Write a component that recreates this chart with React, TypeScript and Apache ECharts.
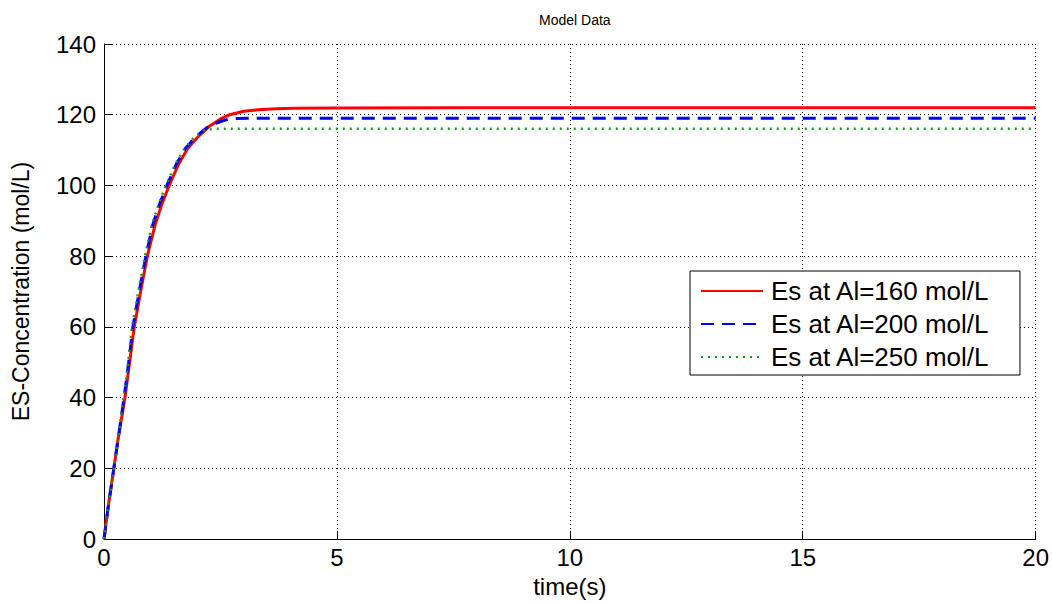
import React, { useEffect, useRef } from "react";
import * as echarts from "echarts";

const chartTitle = "Model Data";
const xName = "time(s)";
const yName = "ES-Concentration (mol/L)";
const seriesNames = ["Es at Al=160 mol/L", "Es at Al=200 mol/L", "Es at Al=250 mol/L"];

const redT = [0, 0.05, 0.1, 0.2, 0.3, 0.45, 0.55, 0.65, 0.8, 0.93, 1.1, 1.25, 1.4, 1.6, 1.8, 2.0, 2.24, 2.5, 2.7, 3.0, 3.3, 3.7, 4.1, 5, 7.5, 10, 20];
const redV = [0, 5, 10, 19, 28, 40, 50, 60, 71, 80, 89, 95, 100, 106, 110.5, 113.5, 116.5, 118.8, 120, 121, 121.4, 121.7, 121.8, 121.9, 122, 122, 122];

const blueT = [0, 0.05, 0.1, 0.2, 0.3, 0.43, 0.53, 0.62, 0.77, 0.9, 1.05, 1.2, 1.35, 1.55, 1.75, 1.95, 2.2, 2.4, 2.6, 2.8, 3.2, 4, 20];
const blueV = [0, 5, 10, 19, 28, 40, 50, 60, 71, 80, 89, 95, 100, 106, 110.5, 113.5, 116.3, 117.6, 118.5, 118.9, 119, 119, 119];

const greenT = [0, 0.05, 0.1, 0.2, 0.3, 0.42, 0.52, 0.6, 0.75, 0.88, 1.03, 1.18, 1.33, 1.53, 1.73, 1.93, 2.15, 2.35, 2.6, 20];
const greenV = [0, 5, 10, 19, 28, 40, 50, 60, 71, 80, 89, 95, 100, 106, 110.5, 113.5, 115.6, 116, 116, 116];

const pairs = (t: number[], v: number[]) => t.map((x, i) => [x, v[i]]);

const FONT = "'Liberation Sans', Arial, sans-serif";

export default function App() {
  const ref = useRef<HTMLDivElement>(null);
  useEffect(() => {
    if (!ref.current) return;
    const chart = echarts.init(ref.current, null, { renderer: "svg" });
    chart.setOption({
      animation: false,
      backgroundColor: "#ffffff",
      title: {
        text: chartTitle,
        left: 534,
        top: 8,
        textStyle: { fontFamily: FONT, fontSize: 14, fontWeight: "normal", color: "#000" },
      },
      grid: { left: 104, right: 16, top: 44, bottom: 63, containLabel: false },
      legend: {
        orient: "vertical",
        left: 690,
        top: 271,
        padding: [7, 30, 5, 10],
        itemGap: 7,
        itemWidth: 62,
        itemHeight: 14,
        borderColor: "#000",
        borderWidth: 1,
        backgroundColor: "#fff",
        align: "left",
        itemStyle: { opacity: 0 },
        textStyle: { fontFamily: FONT, fontSize: 26, color: "#000", padding: [0, 0, 0, 3] },
        data: seriesNames,
      },
      xAxis: {
        type: "value",
        min: 0,
        max: 20,
        interval: 5,
        name: xName,
        nameLocation: "middle",
        nameGap: 28,
        nameTextStyle: { fontFamily: FONT, fontSize: 24, color: "#000" },
        axisLine: { lineStyle: { color: "#000", width: 1 } },
        axisTick: { inside: true, length: 8, lineStyle: { color: "#000" } },
        axisLabel: { fontFamily: FONT, fontSize: 24, color: "#000", margin: 6 },
        splitLine: { show: true, lineStyle: { color: "#000", type: [1, 3], width: 1 } },
      },
      yAxis: {
        type: "value",
        min: 0,
        max: 140,
        interval: 20,
        name: yName,
        nameLocation: "middle",
        nameGap: 72,
        nameTextStyle: { fontFamily: FONT, fontSize: 23, color: "#000" },
        axisLine: { show: true, lineStyle: { color: "#000", width: 1 } },
        axisTick: { show: true, inside: true, length: 8, lineStyle: { color: "#000" } },
        axisLabel: { fontFamily: FONT, fontSize: 24, color: "#000", margin: 8 },
        splitLine: { show: true, lineStyle: { color: "#000", type: [1, 3], width: 1 } },
      },
      series: [
        {
          name: seriesNames[0],
          type: "line",
          symbol: "none",
          data: pairs(redT, redV),
          lineStyle: { color: "#ff0000", width: 3 },
          itemStyle: { color: "#ff0000" },
          z: 3,
        },
        {
          name: seriesNames[1],
          type: "line",
          symbol: "none",
          data: pairs(blueT, blueV),
          lineStyle: { color: "#0000ff", width: 3, type: [13, 8] },
          itemStyle: { color: "#0000ff" },
          z: 4,
        },
        {
          name: seriesNames[2],
          type: "line",
          symbol: "none",
          data: pairs(greenT, greenV),
          lineStyle: { color: "#1a9a1a", width: 2.5, type: [2, 5] },
          itemStyle: { color: "#1a9a1a" },
          z: 5,
        },
      ],
    });
    return () => chart.dispose();
  }, []);
  return (
    <div
      ref={ref}
      style={{ position: "absolute", left: 0, top: 0, width: 1052, height: 603, background: "#fff" }}
    />
  );
}
